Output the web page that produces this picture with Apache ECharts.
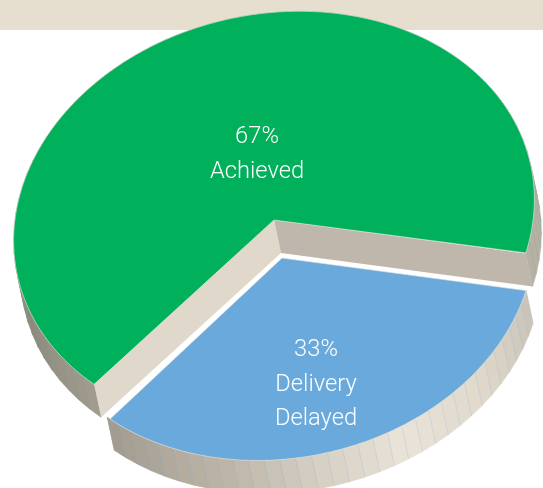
<!DOCTYPE html>
<html>
<head>
<meta charset="utf-8">
<style>
  html,body{margin:0;padding:0;background:#fff;}
  #chart{width:543px;height:488px;}
</style>
<script src="https://cdn.jsdelivr.net/npm/echarts@6/dist/echarts.min.js"></script>
</head>
<body>
<div id="chart"></div>
<script>
const categories = ['Achieved', 'Delivery\nDelayed'];
const shares = [67, 33];
const sliceColors = ['#00b05a', '#6aa9db'];
const stripeColors = ['rgba(60,160,110,0.3)', 'rgba(110,165,210,0.35)'];

(function(){
  const W = 543, H = 488;
  // tilted ellipse the top face sits on
  const RX = 262.5, RY = 206, TILT = -11.9 * Math.PI / 180;
  const START = 24.3;        // where the blue slice begins, degrees round the ellipse
  const PIE = { x: 274, y: 220 };
  const DELAYED = { x: 282, y: 258 };
  const DEPTH = { x: 7, y: 33 };
  const STEP = 3.6;

  // rim shade going round the ellipse
  const shade = [
    [-60, '#b6b0a5'], [0, '#aaa499'], [24, '#c9c2b6'], [50, '#e0d9cc'], [72, '#e9e3d8'],
    [92, '#d6cfc3'], [112, '#bcb5a8'], [143, '#a29c90'], [172, '#8d877c'], [200, '#a9a398'], [300, '#b6b0a5'], [385, '#b6b0a5']
  ];

  function hex(c){ return [1,3,5].map(i => parseInt(c.substr(i,2),16)); }
  function shadeAt(t){
    for(let i = 1; i < shade.length; i++){
      if(t <= shade[i][0]){
        const a = shade[i-1], b = shade[i];
        const k = Math.max(0, (t - a[0]) / (b[0] - a[0]));
        const ca = hex(a[1]), cb = hex(b[1]);
        return 'rgb(' + ca.map((v,j) => Math.round(v + (cb[j]-v)*k)).join(',') + ')';
      }
    }
    return shade[shade.length-1][1];
  }

  function rim(c, scale, deg){
    const t = deg * Math.PI / 180;
    const px = RX * Math.cos(t) * scale, py = RY * Math.sin(t) * scale;
    return [
      c.x + px * Math.cos(TILT) - py * Math.sin(TILT),
      c.y + px * Math.sin(TILT) + py * Math.cos(TILT)
    ];
  }
  function drop(p){ return [p[0] + DEPTH.x, p[1] + DEPTH.y]; }

  function renderSlice(params, api){
    const i = params.dataIndex;
    const total = shares.reduce((a,b) => a + b, 0);
    // blue runs first from START, green takes the rest
    const sweep = api.value(0) / total * 360;
    const other = total - api.value(0);
    const from = i === 1 ? START : START + other / total * 360;
    const to = from + sweep;
    const c = i === 1 ? DELAYED : PIE;
    const scale = i === 1 ? 0.97 : 1;
    const toPx = p => api.coord(p);
    const kids = [];

    // side wall, one strip at a time
    for(let t = from; t < to; t += STEP){
      const e = Math.min(t + STEP, to);
      const a = rim(c, scale, t), b = rim(c, scale, e);
      const fill = shadeAt((t + e) / 2);
      kids.push({ type:'polygon', shape:{ points:[a, b, drop(b), drop(a)].map(toPx) }, style:{ fill:fill, stroke:fill, lineWidth:0.6 } });
      kids.push({ type:'line', shape:{ x1:toPx(a)[0], y1:toPx(a)[1], x2:toPx(drop(a))[0], y2:toPx(drop(a))[1] }, style:{ stroke:stripeColors[i], lineWidth:0.6 } });
    }

    if(i === 0){
      const a = rim(c, scale, from), b = rim(c, scale, to);
      const o = [c.x, c.y];
      // cut faces of the wedge taken out
      kids.push({ type:'polygon', shape:{ points:[o, a, drop(a), drop(o)].map(toPx) }, style:{ fill:'#dfd8cb' } });
      kids.push({ type:'polygon', shape:{ points:[o, b, drop(b), drop(o)].map(toPx) }, style:{ fill:'#bfb7ac' } });
    }

    const top = [[c.x, c.y]];
    for(let t = from; t <= to + 0.01; t += 1) top.push(rim(c, scale, t));
    kids.push({ type:'polygon', shape:{ points:top.map(toPx) }, style:{ fill:sliceColors[i], stroke:'rgba(232,228,218,0.75)', lineWidth:0.8 } });

    return { type:'group', children:kids };
  }

  function labelItem(i, x, y){
    return {
      type:'text', x:x, y:y, z:10,
      style:{ text:shares[i] + '%\n' + categories[i], fill:'#fff', font:'300 23.7px Roboto, "Liberation Sans", sans-serif', lineHeight:34.5, align:'center', verticalAlign:'top' }
    };
  }

  const chart = echarts.init(document.getElementById('chart'), null, { renderer:'canvas' });
  chart.setOption({
    animation:false,
    grid:{ left:0, right:0, top:0, bottom:0 },
    xAxis:{ type:'value', min:0, max:W, show:false },
    yAxis:{ type:'value', min:0, max:H, inverse:true, show:false },
    graphic:[
      { type:'rect', left:0, top:0, z:-1, shape:{ width:W, height:30 }, style:{ fill:'#e6dece' } },
      labelItem(0, 257, 120),
      labelItem(1, 316, 333)
    ],
    series:[{
      type:'custom',
      coordinateSystem:'cartesian2d',
      clip:false,
      data:shares.map(v => [v]),
      encode:{ x:-1, y:-1 },
      silent:true,
      renderItem:renderSlice
    }]
  });
})();
</script>
</body>
</html>
